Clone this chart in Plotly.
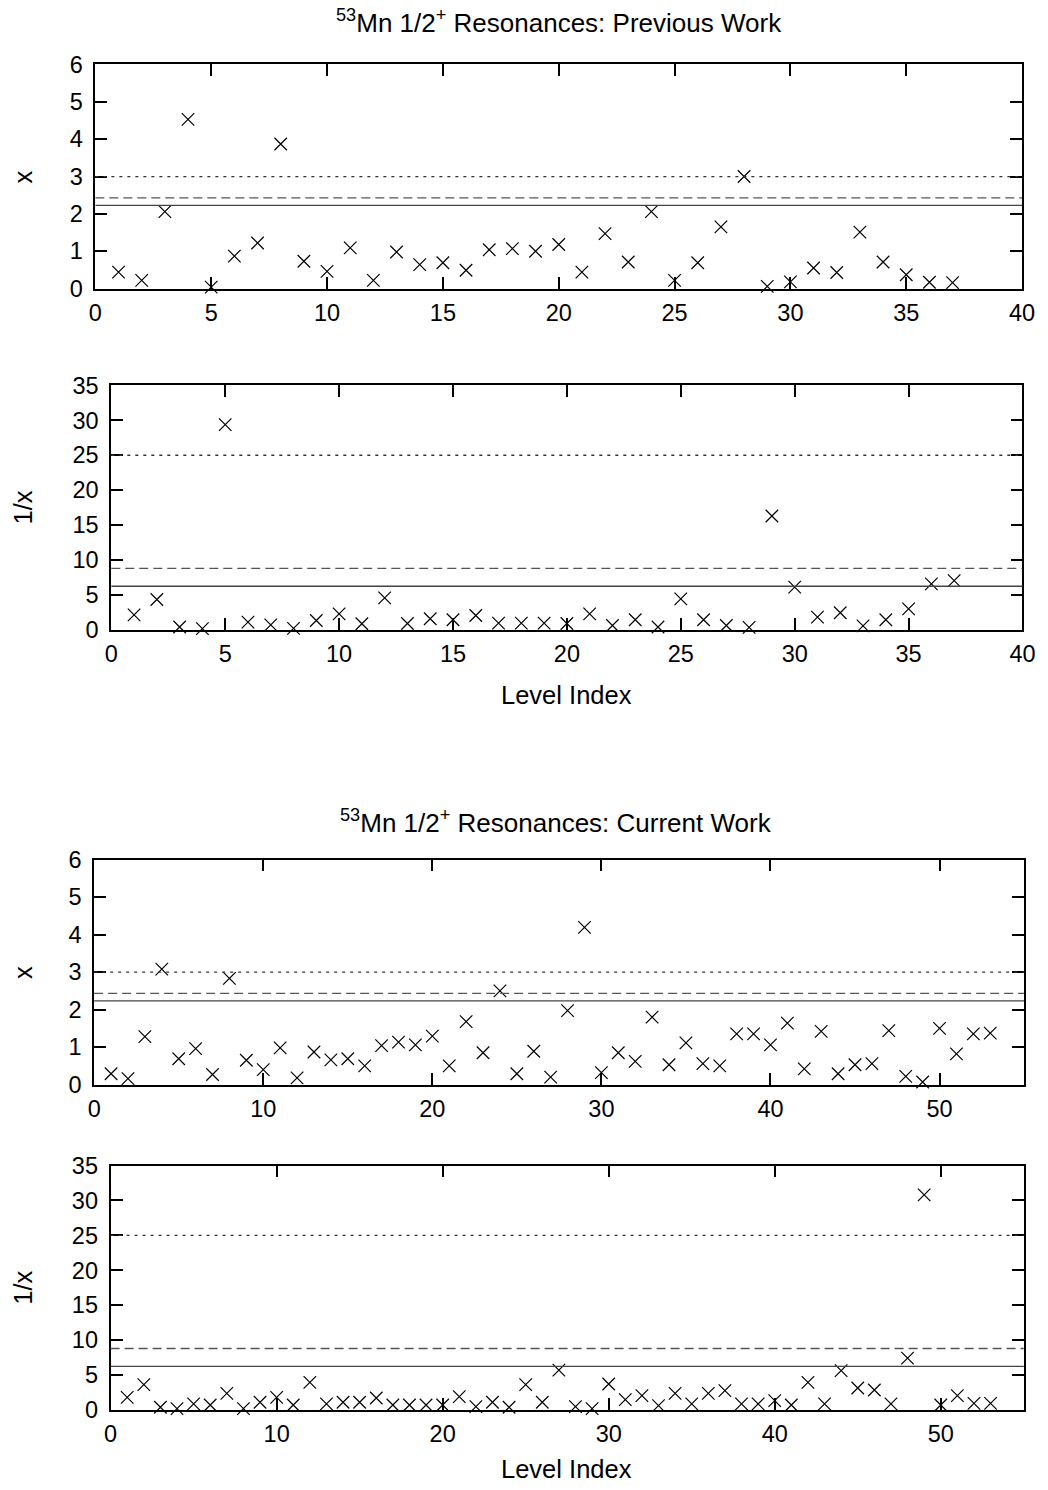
import plotly.graph_objects as go

W, H = 1048, 1490

# ---------------- data ----------------
prev_index = list(range(1, 38))
prev_x = [0.44, 0.22, 2.06, 4.53, 0.04, 0.87, 1.22, 3.87, 0.73, 0.46,
          1.09, 0.22, 0.98, 0.64, 0.69, 0.49, 1.04, 1.07, 1.00, 1.18,
          0.44, 1.47, 0.71, 2.06, 0.22, 0.69, 1.65, 3.00, 0.06, 0.18,
          0.55, 0.43, 1.51, 0.71, 0.37, 0.17, 0.16]
prev_inv = [2.14, 4.33, 0.40, 0.16, 29.4, 1.09, 0.71, 0.20, 1.33, 2.28,
            0.86, 4.57, 0.90, 1.57, 1.43, 2.04, 0.95, 0.95, 0.95, 0.90,
            2.28, 0.61, 1.43, 0.40, 4.43, 1.43, 0.61, 0.35, 16.3, 6.1,
            1.80, 2.43, 0.55, 1.43, 3.00, 6.57, 7.04]

curr_index = list(range(1, 54))
curr_x = [0.29, 0.16, 1.28, 3.08, 0.69, 0.96, 0.27, 2.83, 0.65, 0.40,
          0.98, 0.18, 0.87, 0.66, 0.69, 0.50, 1.04, 1.13, 1.06, 1.29,
          0.50, 1.68, 0.85, 2.50, 0.29, 0.89, 0.20, 1.97, 4.19, 0.32,
          0.85, 0.62, 1.80, 0.53, 1.11, 0.56, 0.50, 1.35, 1.35, 1.06,
          1.64, 0.42, 1.42, 0.29, 0.53, 0.56, 1.44, 0.22, 0.07, 1.50,
          0.82, 1.35, 1.37]
curr_inv = [1.81, 3.62, 0.38, 0.20, 0.86, 0.71, 2.38, 0.20, 1.10, 1.81,
            0.71, 3.95, 0.86, 1.10, 1.10, 1.71, 0.71, 0.71, 0.71, 0.71,
            1.91, 0.48, 1.10, 0.38, 3.62, 1.10, 5.71, 0.48, 0.20, 3.71,
            1.48, 2.05, 0.62, 2.38, 0.86, 2.38, 2.76, 0.86, 0.86, 1.33,
            0.71, 3.95, 0.86, 5.62, 3.14, 2.86, 0.86, 7.42, 30.8, 0.71,
            2.05, 0.95, 0.95]

# reference lines: dotted, dashed, solid
x_ref = [3.0, 2.43, 2.23]
inv_ref = [25.0, 8.8, 6.23]

x_ticks_prev = [0, 5, 10, 15, 20, 25, 30, 35, 40]
x_ticks_curr = [0, 10, 20, 30, 40, 50]
y_ticks_x = [0, 1, 2, 3, 4, 5, 6]
y_ticks_inv = [0, 5, 10, 15, 20, 25, 30, 35]

titles = ["<sup>53</sup>Mn 1/2<sup>+</sup> Resonances: Previous Work",
          "<sup>53</sup>Mn 1/2<sup>+</sup> Resonances: Current Work"]

# the photographed page is shown slightly inset; map target picture pixels to paper
SX, OXP = 0.9847, 6.0
SY, OYP = 0.9866, 10.0


def px(t):
    return ((t - OXP) / SX) / W


def py(t):
    return 1 - ((t - OYP) / SY) / H


# ---------------- layout geometry (target picture pixels) ----------------
panels = [
    (94.7, 1025.0, 61.7, 286.7, [0, 40], [0, 6], x_ticks_prev, y_ticks_x,
     prev_index, prev_x, x_ref, "x"),
    (110.7, 1025.4, 384.0, 629.3, [0, 40], [0, 35], x_ticks_prev, y_ticks_inv,
     prev_index, prev_inv, inv_ref, "1/x"),
    (93.5, 1027.0, 860.0, 1086.0, [0, 55], [0, 6], x_ticks_curr, y_ticks_x,
     curr_index, curr_x, x_ref, "x"),
    (110.0, 1026.7, 1167.3, 1412.7, [0, 55], [0, 35], x_ticks_curr, y_ticks_inv,
     curr_index, curr_inv, inv_ref, "1/x"),
]

FONT = "Liberation Sans, Arial, sans-serif"
TICK_FS = 23.5
LABEL_FS = 25.5
TITLE_FS = 26
fig = go.Figure()
layout = dict(
    width=W, height=H, margin=dict(l=0, r=0, t=0, b=0),
    paper_bgcolor="white", plot_bgcolor="white", showlegend=False,
    font=dict(family=FONT, size=LABEL_FS, color="black"),
)
shapes = []
annotations = []
dashes = ["3px,5px", "9px,5px", "solid"]
ref_colors = ["#333333", "#555555", "#444444"]

for i, (l, r, t, b, xr, yr, xt, yt, xs, ys, refs, ylab) in enumerate(panels):
    n = "" if i == 0 else str(i + 1)
    xa, ya = "x" + n, "y" + n
    common = dict(ticks="inside", ticklen=12, tickwidth=1.8, tickcolor="black",
                  showline=True, linewidth=1.8, linecolor="black", mirror="ticks",
                  showgrid=False, zeroline=False, tickmode="array",
                  ticklabeloverflow="allow",
                  tickfont=dict(family=FONT, size=TICK_FS, color="black"))
    layout["xaxis" + n] = dict(domain=[px(l), px(r)], range=xr, tickvals=xt,
                               anchor=ya, ticklabelstandoff=2, **common)
    layout["yaxis" + n] = dict(domain=[py(b), py(t)], range=yr, tickvals=yt,
                               anchor=xa, ticklabelstandoff=6, **common)
    fig.add_trace(go.Scatter(
        x=xs, y=ys, mode="markers", xaxis=xa, yaxis=ya, cliponaxis=False,
        marker=dict(symbol="x-thin", size=12.5, line=dict(width=1.2, color="black"),
                    color="black")))
    for k, v in enumerate(refs):
        shapes.append(dict(type="line", xref=xa + " domain", yref=ya,
                           x0=0, x1=1, y0=v, y1=v,
                           line=dict(color=ref_colors[k], width=1.3, dash=dashes[k])))
    annotations.append(dict(text=ylab, xref="paper", yref="paper",
                            x=px(22), y=py((t + b) / 2), showarrow=False,
                            textangle=-90, font=dict(family=FONT, size=LABEL_FS),
                            xanchor="center", yanchor="middle"))

for ty in (695, 1472):
    annotations.append(dict(text="Level Index", xref="paper", yref="paper",
                            x=px(568), y=py(ty), showarrow=False,
                            font=dict(family=FONT, size=LABEL_FS),
                            xanchor="center", yanchor="middle"))
for txt, tx, ty in ((titles[0], 560, 19), (titles[1], 557, 822)):
    annotations.append(dict(text=txt, xref="paper", yref="paper",
                            x=px(tx), y=py(ty), showarrow=False,
                            font=dict(family=FONT, size=TITLE_FS),
                            xanchor="center", yanchor="middle"))

layout["shapes"] = shapes
layout["annotations"] = annotations
fig.update_layout(**layout)
fig.write_html("out.html", config={"displayModeBar": False},
               post_script="document.body.style.margin='0';"
                           "document.body.style.padding='0';"
                           "document.documentElement.style.overflow='hidden';")
